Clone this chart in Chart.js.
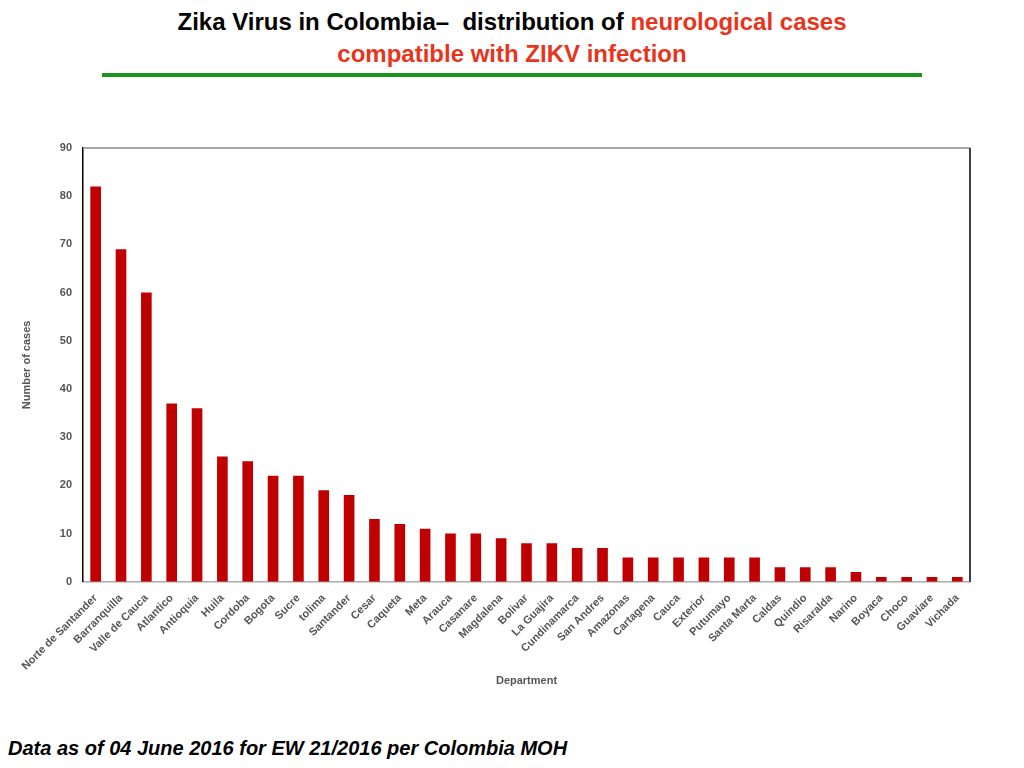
<!DOCTYPE html>
<html>
<head>
<meta charset="utf-8">
<script src="https://cdn.jsdelivr.net/npm/chart.js@4/dist/chart.umd.min.js"></script>
<style>
  html, body { margin: 0; padding: 0; background: #fff; width: 1024px; height: 768px; overflow: hidden; }
  body { position: relative; font-family: "Liberation Sans", Arial, sans-serif; }
  #title { position: absolute; left: 0; top: 6px; width: 1024px; text-align: center; font-weight: bold; font-size: 24px; line-height: 32px; color: #000; }
  #title .red { color: #e8341c; }
  #rule { position: absolute; left: 102px; top: 73px; width: 820px; height: 4px; background: #1a961e; }
  #footer { position: absolute; left: 8px; top: 737px; font-weight: bold; font-style: italic; font-size: 20px; color: #000; }
  #wrap { position: absolute; left: 0; top: 130px; width: 1024px; height: 564px; }
</style>
</head>
<body>
<div id="title">Zika Virus in Colombia&#8211;&nbsp; distribution of <span class="red">neurological cases</span><br><span class="red">compatible with ZIKV infection</span></div>
<div id="rule"></div>
<div id="wrap"><canvas id="c"></canvas></div>
<div id="footer">Data as of 04 June 2016 for EW 21/2016 per Colombia MOH</div>
<script>
const departments = ["Norte de Santander","Barranquilla","Valle de Cauca","Atlantico","Antioquia","Huila","Cordoba","Bogota","Sucre","tolima","Santander","Cesar","Caqueta","Meta","Arauca","Casanare","Magdalena","Bolivar","La Guajira","Cundinamarca","San Andres","Amazonas","Cartagena","Cauca","Exterior","Putumayo","Santa Marta","Caldas","Quindio","Risaralda","Narino","Boyaca","Choco","Guaviare","Vichada"];
const cases = [82,69,60,37,36,26,25,22,22,19,18,13,12,11,10,10,9,8,8,7,7,5,5,5,5,5,5,3,3,3,2,1,1,1,1];
const yTicks = [0,10,20,30,40,50,60,70,80,90];

const frame = {
  id: 'frame',
  afterDraw(chart) {
    const a = chart.chartArea, ctx = chart.ctx;
    ctx.save();
    ctx.lineWidth = 1.5;
    ctx.strokeStyle = '#888';
    ctx.beginPath(); ctx.moveTo(a.left, a.top); ctx.lineTo(a.right, a.top); ctx.stroke();
    ctx.strokeStyle = '#000';
    ctx.beginPath(); ctx.moveTo(a.right, a.top); ctx.lineTo(a.right, a.bottom); ctx.stroke();
    ctx.restore();
  }
};

const tickFont = { family: 'Liberation Sans', size: 11, weight: 'bold' };

new Chart(document.getElementById('c'), {
  type: 'bar',
  data: {
    labels: departments,
    datasets: [{ data: cases, backgroundColor: '#c00000', borderWidth: 0, barPercentage: 0.42, categoryPercentage: 1.0 }]
  },
  options: {
    responsive: true,
    maintainAspectRatio: false,
    animation: false,
    layout: { padding: { left: 0, right: 54, top: 18, bottom: 6 } },
    plugins: { legend: { display: false }, tooltip: { enabled: false } },
    scales: {
      x: {
        afterFit(scale) { scale.paddingLeft = 0; scale.paddingRight = 0; },
        grid: { display: false },
        border: { color: '#aaa', width: 1.5 },
        ticks: { minRotation: 45, maxRotation: 45, autoSkip: false, color: '#555', font: tickFont, padding: 2 },
        title: { display: true, text: 'Department', color: '#555', font: tickFont, padding: { top: 0, bottom: 0 } }
      },
      y: {
        min: 0, max: 90,
        afterBuildTicks(axis) { axis.ticks = yTicks.map(v => ({ value: v })); },
        afterFit(scale) { scale.width = 83; },
        grid: { display: false },
        border: { color: '#000', width: 1.5 },
        ticks: { color: '#555', font: tickFont, padding: 3 },
        title: { display: true, text: 'Number of cases', color: '#555', font: tickFont, padding: { top: 20, bottom: 0 } }
      }
    }
  },
  plugins: [frame]
});
</script>
</body>
</html>
